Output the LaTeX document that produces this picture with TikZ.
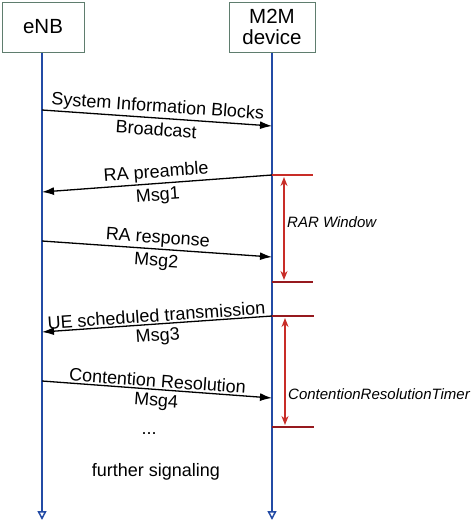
\documentclass[tikz,border=0pt]{standalone}
\usepackage{fontspec}
\setmainfont{Liberation Sans}
\usetikzlibrary{arrows.meta}

\definecolor{lifeblue}{RGB}{35,75,165}
\definecolor{boxgrey}{RGB}{95,125,110}
\definecolor{timerred}{RGB}{200,45,40}
\definecolor{limitred}{RGB}{150,25,30}

\begin{document}
\begin{tikzpicture}[x=1pt,y=-1pt,>={Latex[length=12pt,width=8pt]},
    entity/.style={draw=boxgrey,line width=1pt,minimum height=50pt,align=center,inner sep=1pt,font=\fontsize{20.5}{21.5}\selectfont},
    life/.style={draw=lifeblue,line width=1.8pt,-{Triangle[open,length=9pt,width=9pt,line width=1.5pt]}},
    msg/.style={draw,line width=1.3pt,->},
    lbl/.style={font=\fontsize{18}{19}\selectfont,sloped},
    top/.style={lbl,above,inner sep=0pt,yshift=1.5pt},
    bot/.style={lbl,below,inner sep=4pt},
    limit/.style={draw=limitred,line width=1.8pt},
    timer/.style={draw=timerred,line width=1.8pt,{Stealth[length=9pt,width=7pt]}-{Stealth[length=9pt,width=7pt]}},
    tlbl/.style={font=\fontsize{15}{16}\selectfont\itshape,anchor=west,inner sep=0pt}]
  \useasboundingbox (0,0) rectangle (474,525);

  % entities and lifelines
  \node[entity,minimum width=82pt] (enb) at (43,27) {eNB};
  \node[entity,minimum width=86pt] (dev) at (272,27) {M2M\\device};
  \coordinate (enbend) at (42,520); \coordinate (devend) at (272,520);
  \path[life] (enb.south -| enbend) -- (enbend);
  \path[life] (dev.south) -- (devend);

  % message ends
  \coordinate (e1) at (42,110); \coordinate (d1) at (272,126);
  \coordinate (d2) at (272,175); \coordinate (e2) at (42,192);
  \coordinate (e3) at (42,241); \coordinate (d3) at (272,257);
  \coordinate (d4) at (272,316); \coordinate (e4) at (42,332);
  \coordinate (e5) at (42,381); \coordinate (d5) at (272,398);

  % messages
  \path[msg] (e1) -- node[top] {System Information Blocks}
    node[bot] {Broadcast} (d1);
  \path[msg] (d2) -- node[top] {RA preamble}
    node[bot] {Msg1} (e2);
  \path[msg] (e3) -- node[top] {RA response}
    node[bot] {Msg2} (d3);
  \path[msg] (d4) -- node[top] {UE scheduled transmission}
    node[bot] {Msg3} (e4);
  \path[msg] (e5) -- node[top] {Contention Resolution}
    node[bot] {Msg4} (d5);

  \node[font=\fontsize{18}{19}\selectfont] (dots) at (149,434) {...};
  \node[font=\fontsize{18}{19}\selectfont] (further) at (156,472) {further signaling};

  % timers
  \coordinate (r1) at (313,175); \coordinate (r2) at (313,282);
  \coordinate (c1) at (314,316); \coordinate (c2) at (314,427);
  \path[limit,draw=timerred] (d2) -- (r1);
  \path[limit] (r2 -| devend) -- (r2);
  \path[limit] (c1 -| devend) -- (c1);
  \path[limit] (c2 -| devend) -- (c2);
  \path[timer] (284,177) -- (284,280);
  \path[timer] (285,318) -- (285,425);
  \node[tlbl] (rar) at (287,222) {RAR Window};
  \node[tlbl] (crt) at (288,394) {ContentionResolutionTimer};
\end{tikzpicture}
\end{document}
